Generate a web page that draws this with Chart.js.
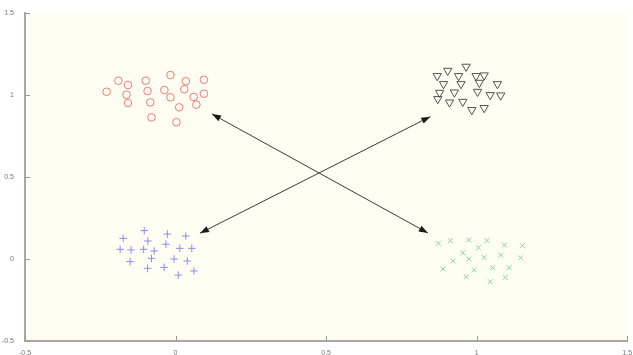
<!DOCTYPE html>
<html>
<head>
<meta charset="utf-8">
<script src="https://cdn.jsdelivr.net/npm/chart.js@4/dist/chart.umd.min.js"></script>
<style>
  html, body { margin: 0; padding: 0; background: #ffffff; }
  #wrap { width: 633px; height: 355px; }
</style>
</head>
<body>
<div id="wrap"><canvas id="c" width="633" height="355"></canvas></div>
<script>
// Tick values
const xTicks = [-0.5, 0, 0.5, 1, 1.5];
const yTicks = [-0.5, 0, 0.5, 1, 1.5];

// Red circles (cluster near (0,1))
const redX = [-0.229, -0.190, -0.158, -0.163, -0.158, -0.099, -0.093, -0.084, -0.080, -0.017,
              -0.037, -0.017, 0.034, 0.029, 0.012, 0.003, 0.094, 0.094, 0.060, 0.069];
const redY = [1.020, 1.087, 1.061, 1.002, 0.951, 1.087, 1.024, 0.955, 0.864, 1.122,
              1.030, 0.986, 1.084, 1.035, 0.925, 0.834, 1.093, 1.008, 0.988, 0.941];

// Black down-triangles (cluster near (1,1))
const blackX = [0.869, 0.904, 0.965, 0.940, 0.998, 1.025, 0.890, 0.948, 1.009, 1.069,
                0.877, 0.926, 1.003, 1.045, 1.080, 0.871, 0.910, 0.954, 0.984, 1.025];
const blackY = [1.116, 1.148, 1.173, 1.116, 1.116, 1.120, 1.067, 1.067, 1.075, 1.067,
                1.014, 1.016, 1.020, 1.000, 0.998, 0.976, 0.955, 0.959, 0.909, 0.921];

// Blue plus signs (cluster near (0,0))
const blueX = [-0.174, -0.104, -0.027, 0.034, -0.092, -0.184, -0.148, -0.106, -0.071, -0.032,
               0.014, 0.054, -0.151, -0.080, -0.005, 0.039, -0.093, -0.038, 0.009, 0.061];
const blueY = [0.126, 0.173, 0.152, 0.140, 0.110, 0.059, 0.055, 0.059, 0.049, 0.090,
               0.065, 0.065, -0.016, 0.004, 0.000, -0.012, -0.057, -0.051, -0.098, -0.073];

// Green x-marks (cluster near (1,0))
const greenX = [0.873, 0.913, 0.974, 1.034, 1.006, 1.092, 1.152, 0.954, 0.974, 1.025,
                1.080, 1.146, 0.921, 0.888, 0.992, 1.053, 1.108, 0.965, 1.045, 1.095];
const greenY = [0.096, 0.112, 0.116, 0.112, 0.069, 0.085, 0.081, 0.038, 0.000, 0.010,
                0.024, 0.008, -0.012, -0.061, -0.067, -0.053, -0.053, -0.108, -0.138, -0.112];

// Double-headed arrows (start/end)
const arrowAX = [0.121, 0.838];
const arrowAY = [0.884, 0.159];
const arrowBX = [0.081, 0.846];
const arrowBY = [0.157, 0.868];

const pts = (xs, ys) => xs.map((x, i) => ({ x: x, y: ys[i] }));
const fmt = v => String(Math.round(v * 10) / 10);

const plotBg = {
  id: 'plotBg',
  beforeDraw(chart) {
    const { ctx, chartArea: a } = chart;
    ctx.save();
    ctx.fillStyle = '#fffef3';
    ctx.fillRect(a.left, a.top, a.right - a.left, a.bottom - a.top);
    ctx.restore();
  }
};

const innerTicks = {
  id: 'innerTicks',
  afterDraw(chart) {
    const { ctx, chartArea: a, scales } = chart;
    ctx.save();
    ctx.strokeStyle = '#9a9a9a';
    ctx.lineWidth = 1;
    ctx.beginPath();
    xTicks.forEach(v => {
      const px = Math.round(scales.x.getPixelForValue(v)) + 0.5;
      ctx.moveTo(px, a.bottom);
      ctx.lineTo(px, a.bottom - 5);
    });
    yTicks.forEach(v => {
      const py = Math.round(scales.y.getPixelForValue(v)) + 0.5;
      ctx.moveTo(a.left, py);
      ctx.lineTo(a.left + 5, py);
    });
    ctx.stroke();
    ctx.restore();
  }
};

const arrowHeads = {
  id: 'arrowHeads',
  afterDatasetsDraw(chart) {
    const { ctx } = chart;
    chart.data.datasets.forEach((ds, i) => {
      if (!ds.isArrow) return;
      const meta = chart.getDatasetMeta(i);
      const p0 = meta.data[0], p1 = meta.data[1];
      const head = (tip, from) => {
        const ang = Math.atan2(tip.y - from.y, tip.x - from.x);
        const L = 9, W = 3.2;
        ctx.beginPath();
        ctx.moveTo(tip.x, tip.y);
        ctx.lineTo(tip.x - L * Math.cos(ang) + W * Math.sin(ang), tip.y - L * Math.sin(ang) - W * Math.cos(ang));
        ctx.lineTo(tip.x - L * Math.cos(ang) - W * Math.sin(ang), tip.y - L * Math.sin(ang) + W * Math.cos(ang));
        ctx.closePath();
        ctx.fill();
      };
      ctx.save();
      ctx.fillStyle = '#1a1a1a';
      head(p0, p1);
      head(p1, p0);
      ctx.restore();
    });
  }
};

new Chart(document.getElementById('c'), {
  type: 'scatter',
  data: {
    datasets: [
      { data: pts(redX, redY), pointStyle: 'circle', pointRadius: 3.8, borderWidth: 1,
        borderColor: '#f07a7a', backgroundColor: 'rgba(0,0,0,0)' },
      { data: pts(blackX, blackY), pointStyle: 'triangle', rotation: 180, pointRadius: 4.8, borderWidth: 1,
        borderColor: '#555555', backgroundColor: 'rgba(0,0,0,0)' },
      { data: pts(blueX, blueY), pointStyle: 'cross', pointRadius: 3.8, borderWidth: 1,
        borderColor: '#8c8cf2', backgroundColor: 'rgba(0,0,0,0)' },
      { data: pts(greenX, greenY), pointStyle: 'crossRot', pointRadius: 3.4, borderWidth: 1,
        borderColor: '#80d89c', backgroundColor: 'rgba(0,0,0,0)' },
      { type: 'line', isArrow: true, data: pts(arrowAX, arrowAY), showLine: true, pointRadius: 0,
        borderColor: '#3a3a3a', borderWidth: 1, fill: false },
      { type: 'line', isArrow: true, data: pts(arrowBX, arrowBY), showLine: true, pointRadius: 0,
        borderColor: '#3a3a3a', borderWidth: 1, fill: false }
    ]
  },
  options: {
    responsive: false,
    animation: false,
    events: [],
    layout: { padding: { top: 13, right: 3, left: 0, bottom: 0 } },
    plugins: { legend: { display: false }, tooltip: { enabled: false } },
    scales: {
      x: {
        type: 'linear', min: -0.5, max: 1.5,
        afterFit(s) { s.height = 14; },
        afterBuildTicks(s) { s.ticks = xTicks.map(v => ({ value: v })); },
        grid: { display: false },
        border: { display: true, color: '#a8a8a8', width: 2 },
        ticks: { color: '#777777', padding: 0, maxRotation: 0, autoSkip: false, callback: fmt,
                 font: { family: 'Liberation Sans, Arial, sans-serif', size: 7 } }
      },
      y: {
        type: 'linear', min: -0.5, max: 1.5,
        afterFit(s) { s.width = 25; },
        afterBuildTicks(s) { s.ticks = yTicks.map(v => ({ value: v })); },
        grid: { display: false },
        border: { display: true, color: '#a8a8a8', width: 2 },
        ticks: { color: '#777777', padding: 3, autoSkip: false, callback: fmt,
                 font: { family: 'Liberation Sans, Arial, sans-serif', size: 7 } }
      }
    }
  },
  plugins: [plotBg, innerTicks, arrowHeads]
});
</script>
</body>
</html>
